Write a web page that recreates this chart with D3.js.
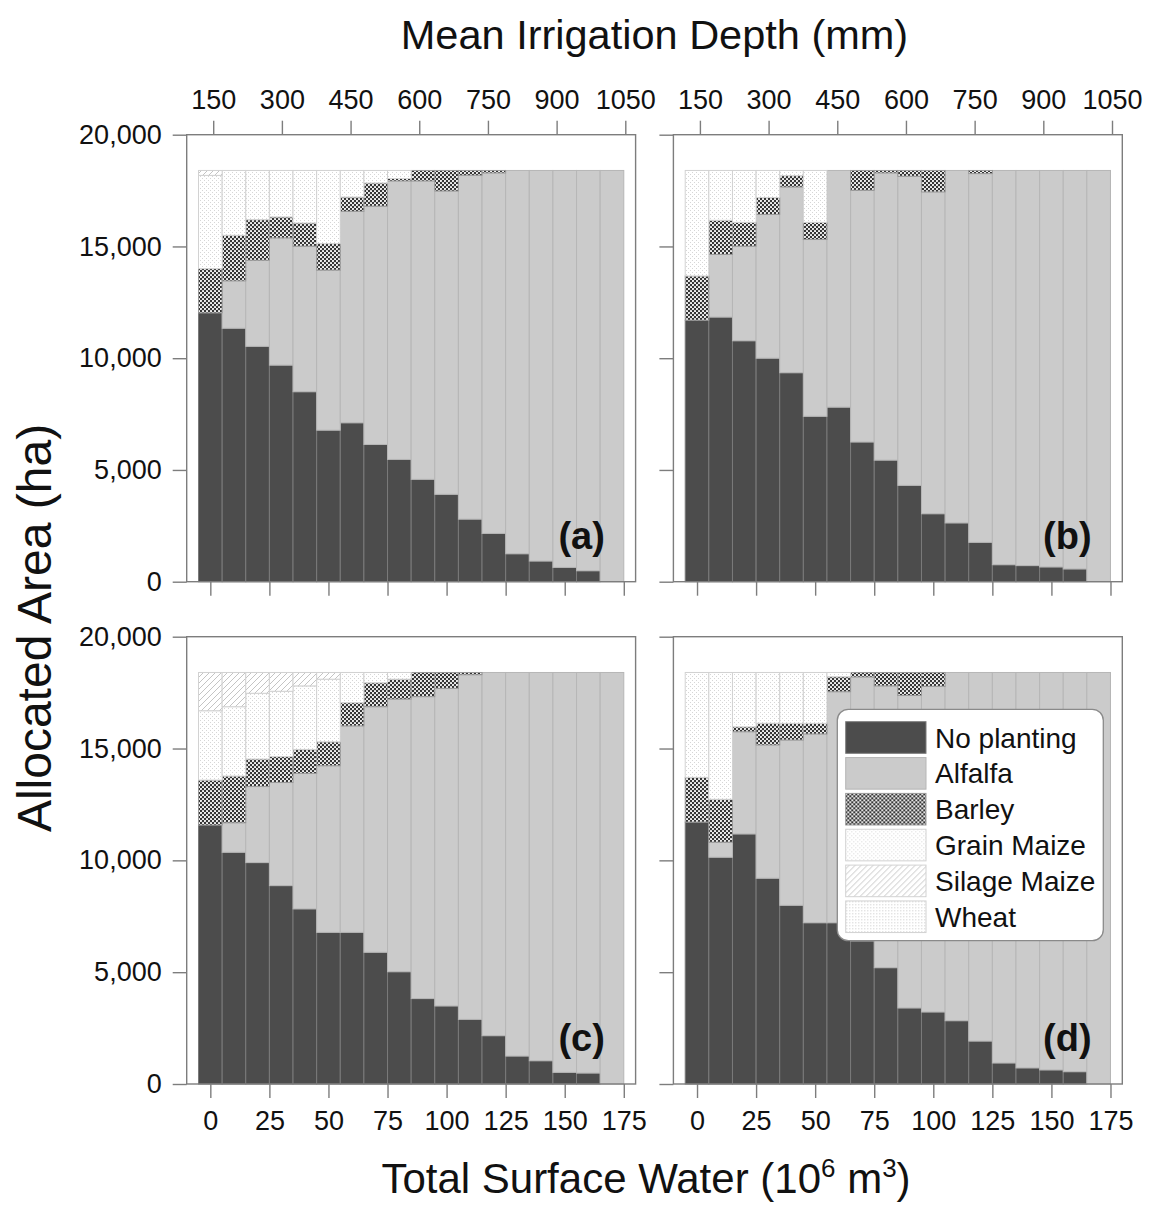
<!DOCTYPE html>
<html>
<head>
<meta charset="utf-8">
<script src="https://cdnjs.cloudflare.com/ajax/libs/d3/7.8.5/d3.min.js"></script>
<style>
  body { margin: 0; background: #fff; }
  svg text { font-family: "Liberation Sans", Arial, sans-serif; fill: #111; }
</style>
</head>
<body>
<svg id="chart" width="1149" height="1205"></svg>
<script>
// Total surface water (10^6 m3), one bar per level
const waterLevels = [0, 10, 20, 30, 40, 50, 60, 70, 80, 90, 100, 110, 120, 130, 140, 150, 160, 170];

const cropNames = ["No planting", "Alfalfa", "Barley", "Grain Maize", "Silage Maize", "Wheat"];

// y axis ticks (ha), top axis ticks (mm), bottom axis ticks (10^6 m3)
const areaTicks = [0, 5000, 10000, 15000, 20000];
const depthTicks = [150, 300, 450, 600, 750, 900, 1050];
const waterTicks = [0, 25, 50, 75, 100, 125, 150, 175];

// Allocated area (ha) — scenario (a)
const noPlantingA  = [12030, 11340, 10530, 9690, 8500, 6780, 7110, 6140, 5470, 4580, 3910, 2800, 2160, 1250, 925, 640, 490, 0];
const alfalfaA     = [0, 2120, 3850, 5690, 6510, 7160, 9460, 10660, 12460, 13350, 13570, 15385, 16130, 17150, 17475, 17760, 17910, 18400];
const barleyA      = [1980, 2040, 1820, 940, 1040, 1190, 640, 1040, 110, 470, 920, 215, 110, 0, 0, 0, 0, 0];
const grainMaizeA  = [4170, 2900, 2200, 2080, 2350, 3270, 1190, 560, 360, 0, 0, 0, 0, 0, 0, 0, 0, 0];
const silageMaizeA = [220, 0, 0, 0, 0, 0, 0, 0, 0, 0, 0, 0, 0, 0, 0, 0, 0, 0];
const wheatA       = [0, 0, 0, 0, 0, 0, 0, 0, 0, 0, 0, 0, 0, 0, 0, 0, 0, 0];

// Scenario (b)
const noPlantingB  = [11700, 11840, 10780, 10000, 9350, 7400, 7810, 6250, 5440, 4310, 3040, 2630, 1760, 760, 720, 660, 570, 0];
const alfalfaB     = [0, 2800, 4230, 6430, 8310, 7910, 10590, 11260, 12850, 13830, 14400, 15770, 16500, 17640, 17680, 17740, 17830, 18400];
const barleyB      = [1980, 1530, 1070, 760, 510, 770, 0, 890, 110, 260, 960, 0, 140, 0, 0, 0, 0, 0];
const grainMaizeB  = [4720, 2230, 2320, 1210, 230, 2320, 0, 0, 0, 0, 0, 0, 0, 0, 0, 0, 0, 0];
const silageMaizeB = [0, 0, 0, 0, 0, 0, 0, 0, 0, 0, 0, 0, 0, 0, 0, 0, 0, 0];
const wheatB       = [0, 0, 0, 0, 0, 0, 0, 0, 0, 0, 0, 0, 0, 0, 0, 0, 0, 0];

// Scenario (c)
const noPlantingC  = [11580, 10360, 9900, 8870, 7830, 6780, 6780, 5890, 5020, 3820, 3490, 2890, 2160, 1250, 1040, 520, 490, 0];
const alfalfaC     = [0, 1320, 3400, 4610, 6060, 7450, 9230, 10980, 12190, 13500, 14200, 15410, 16240, 17150, 17360, 17880, 17910, 18400];
const barleyC      = [2010, 2090, 1230, 1160, 1070, 1070, 1040, 1070, 890, 1080, 710, 100, 0, 0, 0, 0, 0, 0];
const grainMaizeC  = [3100, 3100, 2940, 2920, 2840, 2800, 1350, 460, 300, 0, 0, 0, 0, 0, 0, 0, 0, 0];
const silageMaizeC = [1710, 1530, 930, 840, 600, 300, 0, 0, 0, 0, 0, 0, 0, 0, 0, 0, 0, 0];
const wheatC       = [0, 0, 0, 0, 0, 0, 0, 0, 0, 0, 0, 0, 0, 0, 0, 0, 0, 0];

// Scenario (d)
const noPlantingD  = [11710, 10140, 11180, 9200, 7990, 7210, 7210, 6400, 5200, 3400, 3220, 2830, 1920, 940, 720, 630, 550, 0];
const alfalfaD     = [0, 670, 4570, 5960, 7390, 8440, 10330, 11800, 12600, 13970, 14560, 15570, 16480, 17460, 17680, 17770, 17850, 18400];
const barleyD      = [2000, 1920, 220, 970, 745, 475, 670, 200, 600, 1030, 620, 0, 0, 0, 0, 0, 0, 0];
const grainMaizeD  = [4690, 5670, 2430, 2270, 2275, 2275, 190, 0, 0, 0, 0, 0, 0, 0, 0, 0, 0, 0];
const silageMaizeD = [0, 0, 0, 0, 0, 0, 0, 0, 0, 0, 0, 0, 0, 0, 0, 0, 0, 0];
const wheatD       = [0, 0, 0, 0, 0, 0, 0, 0, 0, 0, 0, 0, 0, 0, 0, 0, 0, 0];

const panelTags = ["(a)", "(b)", "(c)", "(d)"];
const panelSeries = [
  [noPlantingA, alfalfaA, barleyA, grainMaizeA, silageMaizeA, wheatA],
  [noPlantingB, alfalfaB, barleyB, grainMaizeB, silageMaizeB, wheatB],
  [noPlantingC, alfalfaC, barleyC, grainMaizeC, silageMaizeC, wheatC],
  [noPlantingD, alfalfaD, barleyD, grainMaizeD, silageMaizeD, wheatD]
];

// ---- layout ----
const colRange = [[186.7, 635.6], [673.4, 1122.3]];
const rowRange = [[581.7, 134.7], [1084, 636.7]];
const waterDomain = [-10, 180];
const depthDomain = [92.1, 1072.5];
const axisColor = "#7d7d7d";

const svg = d3.select("#chart");
const defs = svg.append("defs");

// fill patterns
const pBarley = defs.append("pattern").attr("id", "pat-barley")
  .attr("patternUnits", "userSpaceOnUse").attr("width", 4).attr("height", 4);
pBarley.append("rect").attr("width", 4).attr("height", 4).attr("fill", "#353535");
pBarley.append("circle").attr("cx", 1).attr("cy", 1).attr("r", 1.05).attr("fill", "#fff");
pBarley.append("circle").attr("cx", 3).attr("cy", 3).attr("r", 1.05).attr("fill", "#fff");

const pGrain = defs.append("pattern").attr("id", "pat-grain")
  .attr("patternUnits", "userSpaceOnUse").attr("width", 4).attr("height", 4);
pGrain.append("rect").attr("width", 4).attr("height", 4).attr("fill", "#fff");
pGrain.append("rect").attr("x", 0).attr("y", 0).attr("width", 1).attr("height", 1).attr("fill", "#d6d6d6");
pGrain.append("rect").attr("x", 2).attr("y", 2).attr("width", 1).attr("height", 1).attr("fill", "#d6d6d6");

const pSilage = defs.append("pattern").attr("id", "pat-silage")
  .attr("patternUnits", "userSpaceOnUse").attr("width", 6).attr("height", 6);
pSilage.append("rect").attr("width", 6).attr("height", 6).attr("fill", "#fff");
pSilage.append("path").attr("d", "M0,6 L6,0 M-1,1 L1,-1 M5,7 L7,5")
  .attr("stroke", "#c4c4c4").attr("stroke-width", 1);

const pWheat = defs.append("pattern").attr("id", "pat-wheat")
  .attr("patternUnits", "userSpaceOnUse").attr("width", 3).attr("height", 3);
pWheat.append("rect").attr("width", 3).attr("height", 3).attr("fill", "#fff");
pWheat.append("rect").attr("x", 0).attr("y", 0).attr("width", 1).attr("height", 1).attr("fill", "#c8c8c8");

const cropFill = ["#4c4c4c", "#cbcbcb", "url(#pat-barley)", "url(#pat-grain)", "url(#pat-silage)", "url(#pat-wheat)"];
const cropStroke = ["#7a7a7a", "#b6b6b6", "#9a9a9a", "#d2d2d2", "#d2d2d2", "#d2d2d2"];

const keys = cropNames;

panelSeries.forEach((series, i) => {
  const col = i % 2, row = Math.floor(i / 2);
  const x = d3.scaleLinear().domain(waterDomain).range(colRange[col]);
  const y = d3.scaleLinear().domain([0, 20000]).range(rowRange[row]);
  const g = svg.append("g");

  const table = waterLevels.map((w, j) => {
    const rec = { water: w };
    keys.forEach((k, c) => { rec[k] = series[c][j]; });
    return rec;
  });
  const stacked = d3.stack().keys(keys)(table);
  const barW = x(10) - x(0);

  g.selectAll("g.layer").data(stacked).join("g")
    .attr("class", "layer")
    .attr("fill", (d, c) => cropFill[c])
    .attr("stroke", (d, c) => cropStroke[c])
    .attr("stroke-width", 1)
    .selectAll("rect")
    .data(d => d.filter(s => s[1] - s[0] > 0))
    .join("rect")
    .attr("x", d => x(d.data.water) - barW / 2)
    .attr("width", barW)
    .attr("y", d => y(d[1]))
    .attr("height", d => y(d[0]) - y(d[1]));

  // frame
  g.append("rect")
    .attr("x", colRange[col][0]).attr("y", rowRange[row][1])
    .attr("width", colRange[col][1] - colRange[col][0])
    .attr("height", rowRange[row][0] - rowRange[row][1])
    .attr("fill", "none").attr("stroke", axisColor).attr("stroke-width", 1.4);

  const styleAxis = sel => {
    sel.select(".domain").remove();
    sel.selectAll(".tick line").attr("stroke", axisColor).attr("stroke-width", 1.4);
    sel.selectAll(".tick text").attr("font-size", 27).attr("fill", "#111")
      .style("font-family", '"Liberation Sans", Arial, sans-serif');
  };

  // left axis
  g.append("g").attr("transform", `translate(${colRange[col][0]},0)`)
    .call(d3.axisLeft(y).tickValues(areaTicks).tickSize(14).tickSizeOuter(0).tickPadding(11)
      .tickFormat(col === 0 ? d3.format(",") : () => ""))
    .call(styleAxis);

  // bottom axis
  g.append("g").attr("transform", `translate(0,${rowRange[row][0]})`)
    .call(d3.axisBottom(x).tickValues(waterTicks).tickSize(14).tickSizeOuter(0).tickPadding(13)
      .tickFormat(row === 1 ? d3.format("d") : () => ""))
    .call(styleAxis);

  // top axis (mean irrigation depth)
  if (row === 0) {
    const xTop = d3.scaleLinear().domain(depthDomain).range(colRange[col]);
    g.append("g").attr("transform", `translate(0,${rowRange[row][1]})`)
      .call(d3.axisTop(xTop).tickValues(depthTicks).tickSize(14).tickSizeOuter(0).tickPadding(12)
        .tickFormat(d3.format("d")))
      .call(styleAxis);
  }

  // panel tag
  g.append("text")
    .attr("x", x(167)).attr("y", y(0) - 33)
    .attr("text-anchor", "end")
    .attr("font-size", 38).attr("font-weight", "bold")
    .text(panelTags[i]);

  // legend inside panel (d)
  if (i === 3) {
    const lx = 837.3, ly = 709.3;
    const lg = svg.append("g").attr("transform", `translate(${lx},${ly})`);
    lg.append("rect").attr("width", 266).attr("height", 231.4).attr("rx", 11)
      .attr("fill", "#fff").attr("stroke", "#8a8a8a").attr("stroke-width", 1.3);
    cropNames.forEach((name, c) => {
      const ry = 12.4 + c * 35.85;
      lg.append("rect").attr("x", 8.4).attr("y", ry).attr("width", 80.3).attr("height", 31.6)
        .attr("fill", cropFill[c]).attr("stroke", cropStroke[c]).attr("stroke-width", 1);
      lg.append("text").attr("x", 97.7).attr("y", ry + 15.8).attr("dy", "0.36em")
        .attr("font-size", 28).text(name);
    });
  }
});

// axis titles
svg.append("text").attr("x", 654.5).attr("y", 49).attr("text-anchor", "middle")
  .attr("font-size", 41.5).text("Mean Irrigation Depth (mm)");

const xt = svg.append("text").attr("x", 646).attr("y", 1193).attr("text-anchor", "middle")
  .attr("font-size", 42);
xt.append("tspan").text("Total Surface Water (10");
xt.append("tspan").attr("font-size", 26).attr("dy", -16).text("6");
xt.append("tspan").attr("dy", 16).text(" m");
xt.append("tspan").attr("font-size", 26).attr("dy", -16).text("3");
xt.append("tspan").attr("dy", 16).text(")");

svg.append("text").attr("transform", "translate(34,628) rotate(-90)")
  .attr("text-anchor", "middle").attr("dy", "0.36em")
  .attr("font-size", 48).text("Allocated Area (ha)");
</script>
</body>
</html>
